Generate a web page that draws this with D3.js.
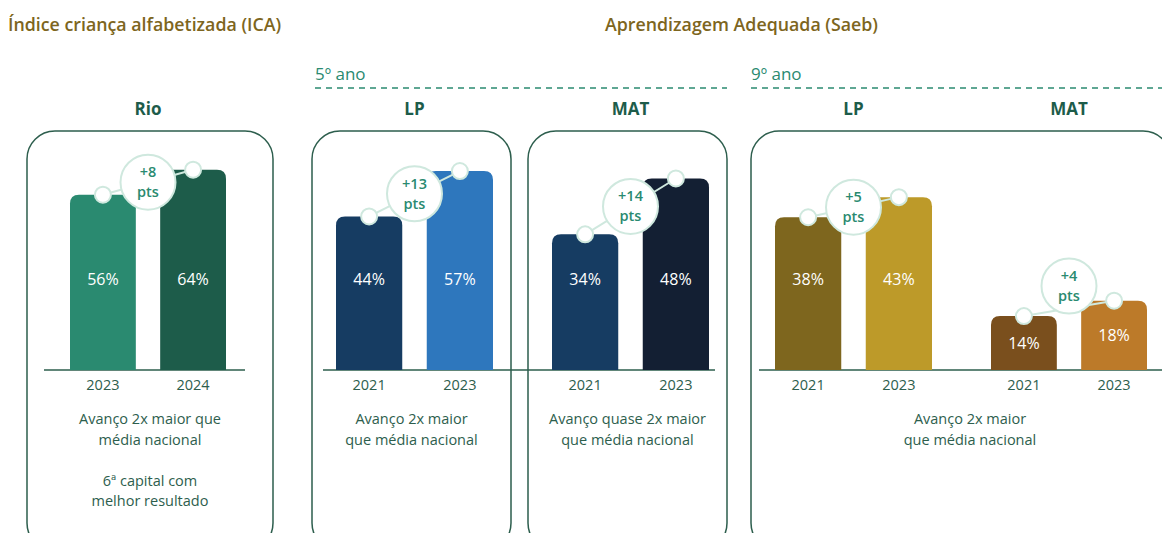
<!DOCTYPE html>
<html>
<head>
<meta charset="utf-8">
<script src="https://cdn.jsdelivr.net/npm/d3@7"></script>
<style>
  body { margin: 0; background: #fff; }
  svg { display: block; font-family: "Segoe UI", "Open Sans", "Noto Sans", sans-serif; }
</style>
</head>
<body>
<svg id="chart" width="1162" height="533"></svg>
<script>
// chart data
const panelTitles = ['Rio', 'LP', 'MAT', 'LP', 'MAT'];
const panelYears = [['2023', '2024'], ['2021', '2023'], ['2021', '2023'], ['2021', '2023'], ['2021', '2023']];
const panelValues = [[56, 64], [44, 57], [34, 48], [38, 43], [14, 18]];
const barColors = [['#2a8a70', '#1d5c4a'], ['#163c62', '#2e77bd'], ['#163c62', '#131f33'], ['#7e661e', '#bd9a29'], ['#7a4f1d', '#bc7a29']];
const boxNotes = [
  ['Avanço 2x maior que', 'média nacional', '', '6ª capital com', 'melhor resultado'],
  ['Avanço 2x maior', 'que média nacional'],
  ['Avanço quase 2x maior', 'que média nacional'],
  ['Avanço 2x maior', 'que média nacional']
];

// layout
const baseY = 370;
const panelRange = [[70, 226], [336, 493], [552, 709], [775, 932], [991, 1147]];
const panelFull = [313, 349, 399, 402, 385]; // px for 100%
const boxes = [{x: 27, w: 246}, {x: 312, w: 199}, {x: 528, w: 199}, {x: 751, w: 420}];
const baselines = [[44, 245], [323, 715], [759, 1162]];

const green = '#2d5e4d', teal = '#2a8a70', mint = '#cfe8de', olive = '#7d6520';
const svg = d3.select('#chart');

// headers
svg.append('text').attr('x', 8).attr('y', 31).attr('fill', olive)
  .style('font-size', '17.8px').style('font-weight', 600).text('Índice criança alfabetizada (ICA)');
svg.append('text').attr('x', 605).attr('y', 31).attr('fill', olive)
  .style('font-size', '17.8px').style('font-weight', 600).text('Aprendizagem Adequada (Saeb)');

[['5º ano', 315, 727], ['9º ano', 751, 1162]].forEach(function (g) {
  svg.append('text').attr('x', g[1]).attr('y', 80).attr('fill', teal)
    .style('font-size', '17px').text(g[0]);
  svg.append('line').attr('x1', g[1]).attr('x2', g[2]).attr('y1', 88).attr('y2', 88)
    .attr('stroke', teal).attr('stroke-width', 1.5).attr('stroke-dasharray', '6,5');
});

// boxes
boxes.forEach(function (b, i) {
  svg.append('rect').attr('x', b.x).attr('y', 131).attr('width', b.w).attr('height', 420)
    .attr('rx', 28).attr('fill', 'none').attr('stroke', green).attr('stroke-width', 1.5);
  boxNotes[i].forEach(function (t, j) {
    svg.append('text').attr('x', i === 3 ? 970 : b.x + b.w / 2).attr('y', 424 + j * 20.5)
      .attr('text-anchor', 'middle').attr('fill', green).style('font-size', '14.5px').text(t);
  });
});

baselines.forEach(function (l) {
  svg.append('line').attr('x1', l[0]).attr('x2', l[1]).attr('y1', baseY).attr('y2', baseY)
    .attr('stroke', green).attr('stroke-width', 1.5);
});

function barPath(x, y, w, h, r) {
  return 'M' + x + ',' + (y + h) + 'V' + (y + r) + 'Q' + x + ',' + y + ' ' + (x + r) + ',' + y +
    'H' + (x + w - r) + 'Q' + (x + w) + ',' + y + ' ' + (x + w) + ',' + (y + r) + 'V' + (y + h) + 'Z';
}

panelTitles.forEach(function (title, p) {
  const x = d3.scaleBand().domain(panelYears[p]).range(panelRange[p]).paddingInner(0.27).paddingOuter(0);
  const y = d3.scaleLinear().domain([0, 100]).range([baseY, baseY - panelFull[p]]);
  const g = svg.append('g');
  const cx = (x.range()[0] + x.range()[1]) / 2;

  g.append('text').attr('x', cx).attr('y', 115).attr('text-anchor', 'middle')
    .attr('fill', '#1d5c4a').style('font-size', '17px').style('font-weight', 700).text(title);

  const vals = panelValues[p];
  const bars = vals.map(function (v, i) {
    const yr = panelYears[p][i];
    return {v: v, yr: yr, x: x(yr), cx: x(yr) + x.bandwidth() / 2, top: y(v), color: barColors[p][i]};
  });

  bars.forEach(function (d) {
    g.append('path').attr('d', barPath(d.x, d.top, x.bandwidth(), baseY - d.top, 9)).attr('fill', d.color);
    const h = baseY - d.top;
    g.append('text').attr('x', d.cx).attr('y', h > 100 ? 279 : d.top + h / 2).attr('dy', '0.35em')
      .attr('text-anchor', 'middle').attr('fill', '#fff').style('font-size', '16px').text(d.v + '%');
    g.append('text').attr('x', d.cx).attr('y', baseY + 20).attr('text-anchor', 'middle')
      .attr('fill', green).style('font-size', '14.5px').text(d.yr);
  });

  // change bubble
  const a = bars[0], b = bars[1];
  g.append('line').attr('x1', a.cx).attr('y1', a.top).attr('x2', b.cx).attr('y2', b.top)
    .attr('stroke', mint).attr('stroke-width', 2);
  const bx = (a.cx + b.cx) / 2;
  const by = Math.min((a.top + b.top) / 2, baseY - 84);
  g.append('circle').attr('cx', bx).attr('cy', by).attr('r', 27.5)
    .attr('fill', '#fff').attr('stroke', mint).attr('stroke-width', 2);
  const lbl = g.append('text').attr('text-anchor', 'middle').attr('fill', teal)
    .style('font-size', '14.5px').style('font-weight', 600);
  lbl.append('tspan').attr('x', bx).attr('y', by - 5).text('+' + (b.v - a.v));
  lbl.append('tspan').attr('x', bx).attr('y', by + 15).text('pts');
  [a, b].forEach(function (d) {
    g.append('circle').attr('cx', d.cx).attr('cy', d.top).attr('r', 8)
      .attr('fill', '#fff').attr('stroke', mint).attr('stroke-width', 2);
  });
});
</script>
</body>
</html>
